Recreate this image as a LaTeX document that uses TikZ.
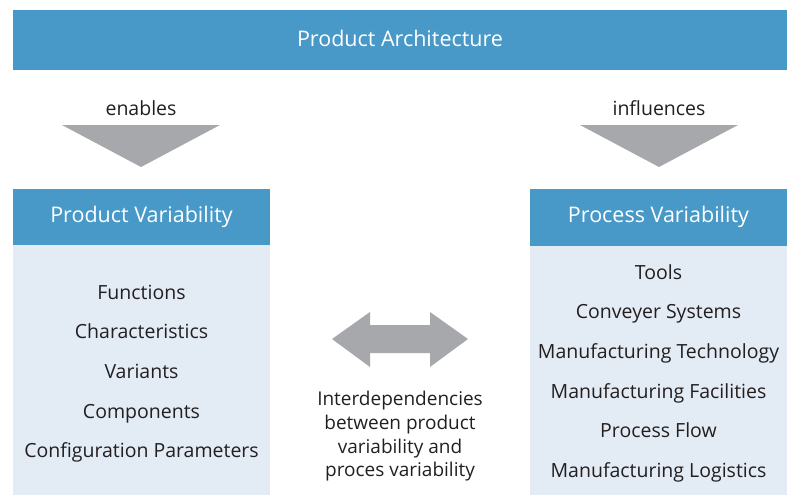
\documentclass[tikz,border=0pt]{standalone}
\usepackage{fontspec}
\setmainfont{Open Sans}
\definecolor{archblue}{RGB}{72,153,200}
\definecolor{paleblue}{RGB}{227,236,245}
\definecolor{arrowgray}{RGB}{167,168,172}
\definecolor{textgray}{RGB}{35,31,32}
\begin{document}
\begin{tikzpicture}[x=1pt, y=-1pt,
    headbox/.style={fill=archblue, inner sep=0},
    headtext/.style={text=white, inner sep=0, anchor=base, font=\fontsize{21.5}{24}\selectfont},
    bodybox/.style={fill=paleblue, inner sep=0, minimum width=257pt, minimum height=250pt},
    item/.style={text=textgray, inner sep=0, anchor=base, font=\fontsize{19.5}{23}\selectfont}]
    \useasboundingbox (0,0) rectangle (794,495);
    % top bar
    \node[headbox, minimum width=774pt, minimum height=60pt] (arch) at (400,40) {};
    \node[headtext] (archtext) at (400,46.7) {Product Architecture};
    \node[item] (enables) at (141,115.7) {enables};
    \node[item] (influences) at (659,115.7) {influences};
    \fill[arrowgray] (62,125) -- (220,125) -- (141,167) -- cycle;
    \fill[arrowgray] (580,125) -- (738,125) -- (659,167) -- cycle;
    % product side
    \node[headbox, minimum width=257pt, minimum height=56pt] (prodhead) at (141.5,217) {};
    \node[headtext] (prodtext) at (141.5,222.7) {Product Variability};
    \node[bodybox] (prodbody) at (141.5,370) {};
    \foreach \txt [count=\i] in {Functions, Characteristics, Variants, Components, Configuration Parameters}
        \node[item] (prod\i) at (141.5,259.7+39.6*\i) {\txt};
    % process side
    \node[headbox, minimum width=257pt, minimum height=57pt] (prochead) at (658.5,217.5) {};
    \node[headtext] (proctext) at (658.5,222.7) {Process Variability};
    \node[bodybox, minimum height=249pt] (procbody) at (658.5,370.5) {};
    \foreach \txt [count=\i] in {Tools, Conveyer Systems, Manufacturing Technology, Manufacturing Facilities, Process Flow, Manufacturing Logistics}
        \node[item] (proc\i) at (658.5,239.4+39.65*\i) {\txt};
    % interdependencies
    \fill[arrowgray] (332,339) -- (370,312) -- (370,325) -- (430,325) -- (430,312) -- (468,339)
        -- (430,367) -- (430,353) -- (370,353) -- (370,367) -- cycle;
    \node[item, align=center, font=\fontsize{19}{23.7}\selectfont] (inter) at (400,476.7)
        {Interdependencies\\between product\\variability and\\proces variability};
\end{tikzpicture}
\end{document}
